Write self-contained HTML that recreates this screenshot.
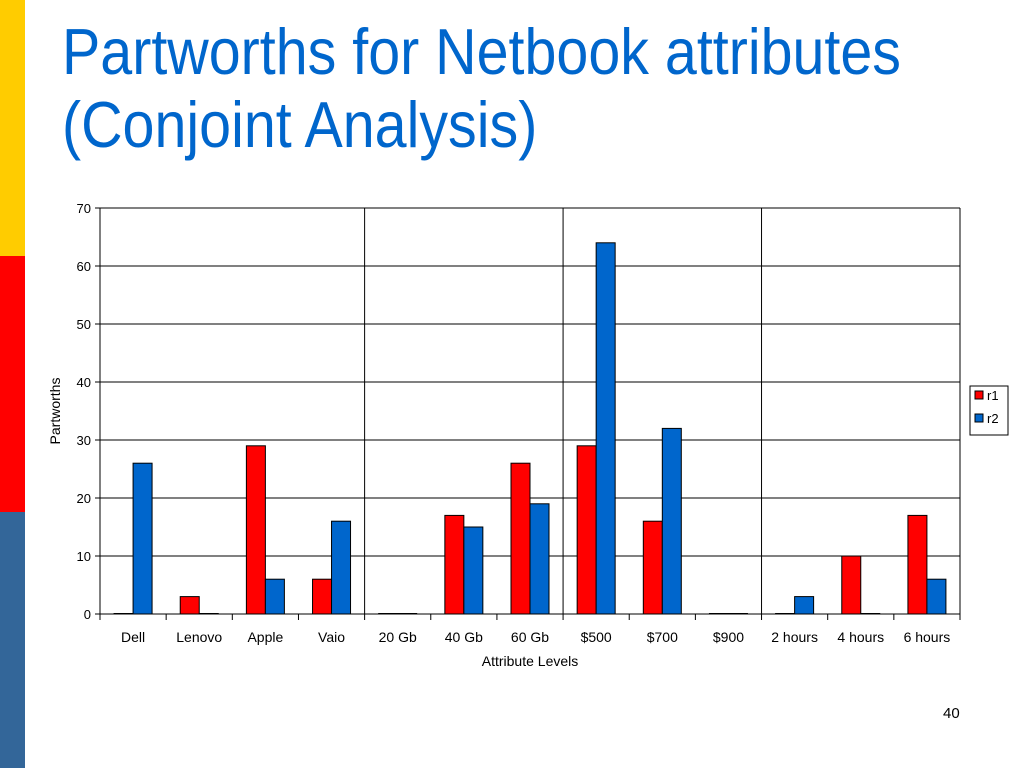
<!DOCTYPE html>
<html><head><meta charset="utf-8"><style>
body{margin:0;width:1024px;height:768px;background:#fff;overflow:hidden;font-family:"Liberation Sans",sans-serif;position:relative}
.s{position:absolute;left:0;width:25px}
</style></head><body>
<div class="s" style="top:0;height:256px;background:#FFCC00"></div>
<div class="s" style="top:256px;height:256px;background:#FF0000"></div>
<div class="s" style="top:512px;height:256px;background:#336699"></div>
<div style="position:absolute;left:62px;top:15px;font-size:65px;line-height:73px;color:#0066CC;white-space:nowrap;transform:scaleX(0.883);transform-origin:0 0">Partworths for Netbook attributes<br>(Conjoint Analysis)</div>
<div style="position:absolute;left:943px;top:705px;font-size:15px">40</div>
<svg id="c" width="1024" height="768" style="position:absolute;left:0;top:0" font-family="Liberation Sans, sans-serif"></svg>
<script>
const categories=["Dell","Lenovo","Apple","Vaio","20 Gb","40 Gb","60 Gb","$500","$700","$900","2 hours","4 hours","6 hours"];
const r1=[0,3,29,6,0,17,26,29,16,0,0,10,17];
const r2=[26,0,6,16,0,15,19,64,32,0,3,0,6];
const yTicks=[0,10,20,30,40,50,60,70];
const separators=[4,7,10];
const L=100,R=960,T=208,B=614,ymax=70;
const svg=document.getElementById('c');const NS='http://www.w3.org/2000/svg';
const bw=(R-L)/categories.length;
const y=v=>B-(v/ymax)*(B-T);const x=i=>L+i*bw;
function el(t,a,p){const e=document.createElementNS(NS,t);for(const k in a)e.setAttribute(k,a[k]);(p||svg).appendChild(e);return e;}
yTicks.forEach(v=>{
 const g=el('line',{x1:L,x2:R,y1:y(v),y2:y(v),stroke:'#000','stroke-width':1});
 
 
 el('line',{x1:L-5,x2:L,y1:y(v),y2:y(v),stroke:'#000'});
 const t=el('text',{x:L-9,y:y(v)+5,'text-anchor':'end','font-size':13});t.textContent=v;
 
 
});
el('line',{x1:L,x2:L,y1:T,y2:B,stroke:'#000'});
el('line',{x1:R,x2:R,y1:T,y2:B,stroke:'#000'});
separators.forEach(i=>{const s=el('line',{x1:x(i),x2:x(i),y1:T,y2:B,stroke:'#000'});
 
 });
categories.forEach((c,i)=>{
 el('line',{x1:x(i),x2:x(i),y1:B,y2:B+6,stroke:'#000'});
 const cx=x(i)+bw/2;
 [[r1,'#FF0000',-19],[r2,'#0066CC',0]].forEach(([arr,col,off],k)=>{
  const v=arr[i];const h=Math.max(B-y(v),0.5);
  const r=el('rect',{x:cx+off,y:B-h,width:19,height:h,fill:col,stroke:'#000','stroke-width':1});
  
  
 });
 const t=el('text',{x:cx,y:642,'text-anchor':'middle','font-size':14});t.textContent=c;
 
 
});
el('line',{x1:R,x2:R,y1:B,y2:B+6,stroke:'#000'});
const xt=el('text',{x:530,y:666,'text-anchor':'middle','font-size':14});xt.textContent='Attribute Levels';


const yt=el('text',{x:0,y:0,'text-anchor':'middle','font-size':14,transform:'translate(60,411) rotate(-90)'});yt.textContent='Partworths';


const lg=el('rect',{x:970,y:386,width:38,height:49,fill:'#fff',stroke:'#000'});


[['r1','#FF0000',398],['r2','#0066CC',421]].forEach(([n,c,yy])=>{
 const r=el('rect',{x:975,y:yy-7,width:8,height:8,fill:c,stroke:'#000'});
 
 
 const t=el('text',{x:987,y:yy+2,'font-size':13});t.textContent=n;
 
 
});
</script>
</body></html>
